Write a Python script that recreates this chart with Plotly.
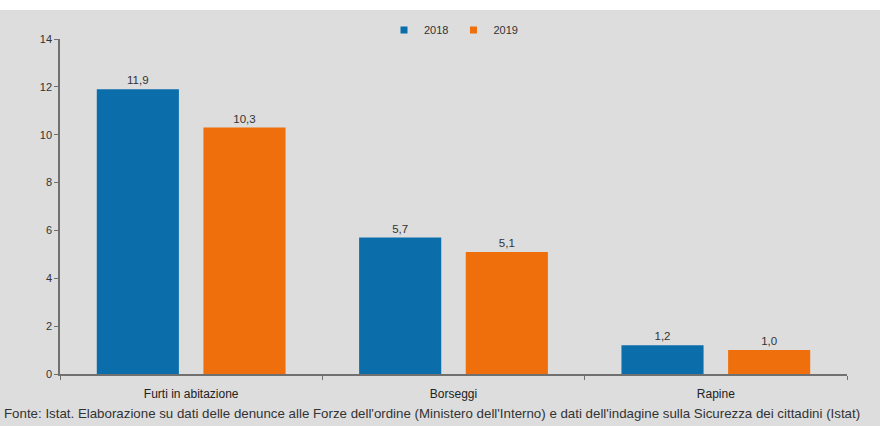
import plotly.graph_objects as go

categories = ["Furti in abitazione", "Borseggi", "Rapine"]
values_2018 = [11.9, 5.7, 1.2]
values_2019 = [10.3, 5.1, 1.0]
series_names = ["2018", "2019"]
y_ticks = [0, 2, 4, 6, 8, 10, 12, 14]
footnote = "Fonte: Istat. Elaborazione su dati delle denunce alle Forze dell'ordine (Ministero dell'Interno) e dati dell'indagine sulla Sicurezza dei cittadini (Istat)"

BLUE = "#0b6eab"
ORANGE = "#ee6f0b"
BG = "#dddddd"
TXT = "#333333"

fig = go.Figure()
for name, vals, col in [(series_names[0], values_2018, BLUE), (series_names[1], values_2019, ORANGE)]:
    fig.add_trace(go.Bar(
        x=categories, y=vals, name=name, marker=dict(color=col, line=dict(width=0)),
        texttemplate="%{y:.1f}", textposition="outside",
        textfont=dict(family="Liberation Sans", size=11.5, color=TXT),
        cliponaxis=False, showlegend=False, legendgroup=name,
    ))
for name, col in [(series_names[0], BLUE), (series_names[1], ORANGE)]:
    fig.add_trace(go.Scatter(
        x=[categories[0]], y=[None], mode="markers", name=name, legendgroup=name,
        marker=dict(symbol="square", size=7, color=col), showlegend=True,
    ))

fig.update_layout(
    width=880, height=426,
    margin=dict(l=60, r=33, t=39, b=52),
    paper_bgcolor=BG, plot_bgcolor=BG,
    separators=",.",
    barmode="group", bargap=0.187, bargroupgap=0.23,
    font=dict(family="Liberation Sans", color=TXT, size=11),
    legend=dict(orientation="h", x=0.5, xanchor="center", y=1.027, yanchor="middle",
                bgcolor="rgba(0,0,0,0)", font=dict(size=11, color=TXT),
                itemwidth=30, traceorder="normal"),
    showlegend=True,
    xaxis=dict(showline=True, linecolor="#707070", linewidth=1.5, ticks="outside",
               tickson="boundaries", ticklen=4, tickcolor="#707070", ticklabelstandoff=8,
               tickfont=dict(size=12, color="#222222"), showgrid=False),
    yaxis=dict(range=[0, 14], tickvals=y_ticks, showline=True, linecolor="#707070", linewidth=1.5,
               ticks="outside", ticklen=4, tickcolor="#707070", showgrid=False, zeroline=False,
               tickfont=dict(size=11, color=TXT)),
    shapes=[dict(type="rect", xref="paper", yref="paper", x0=-0.1, x1=1.1,
                 y0=(374 - 10) / 335, y1=1.2, fillcolor="white", line=dict(width=0), layer="below")],
    annotations=[dict(text=footnote, xref="paper", yref="paper", x=-0.074, y=(374 - 413) / 335,
                      xanchor="left", yanchor="middle", showarrow=False,
                      font=dict(family="Liberation Sans", size=13.3, color=TXT))],
)

fig.write_html("out.html")
